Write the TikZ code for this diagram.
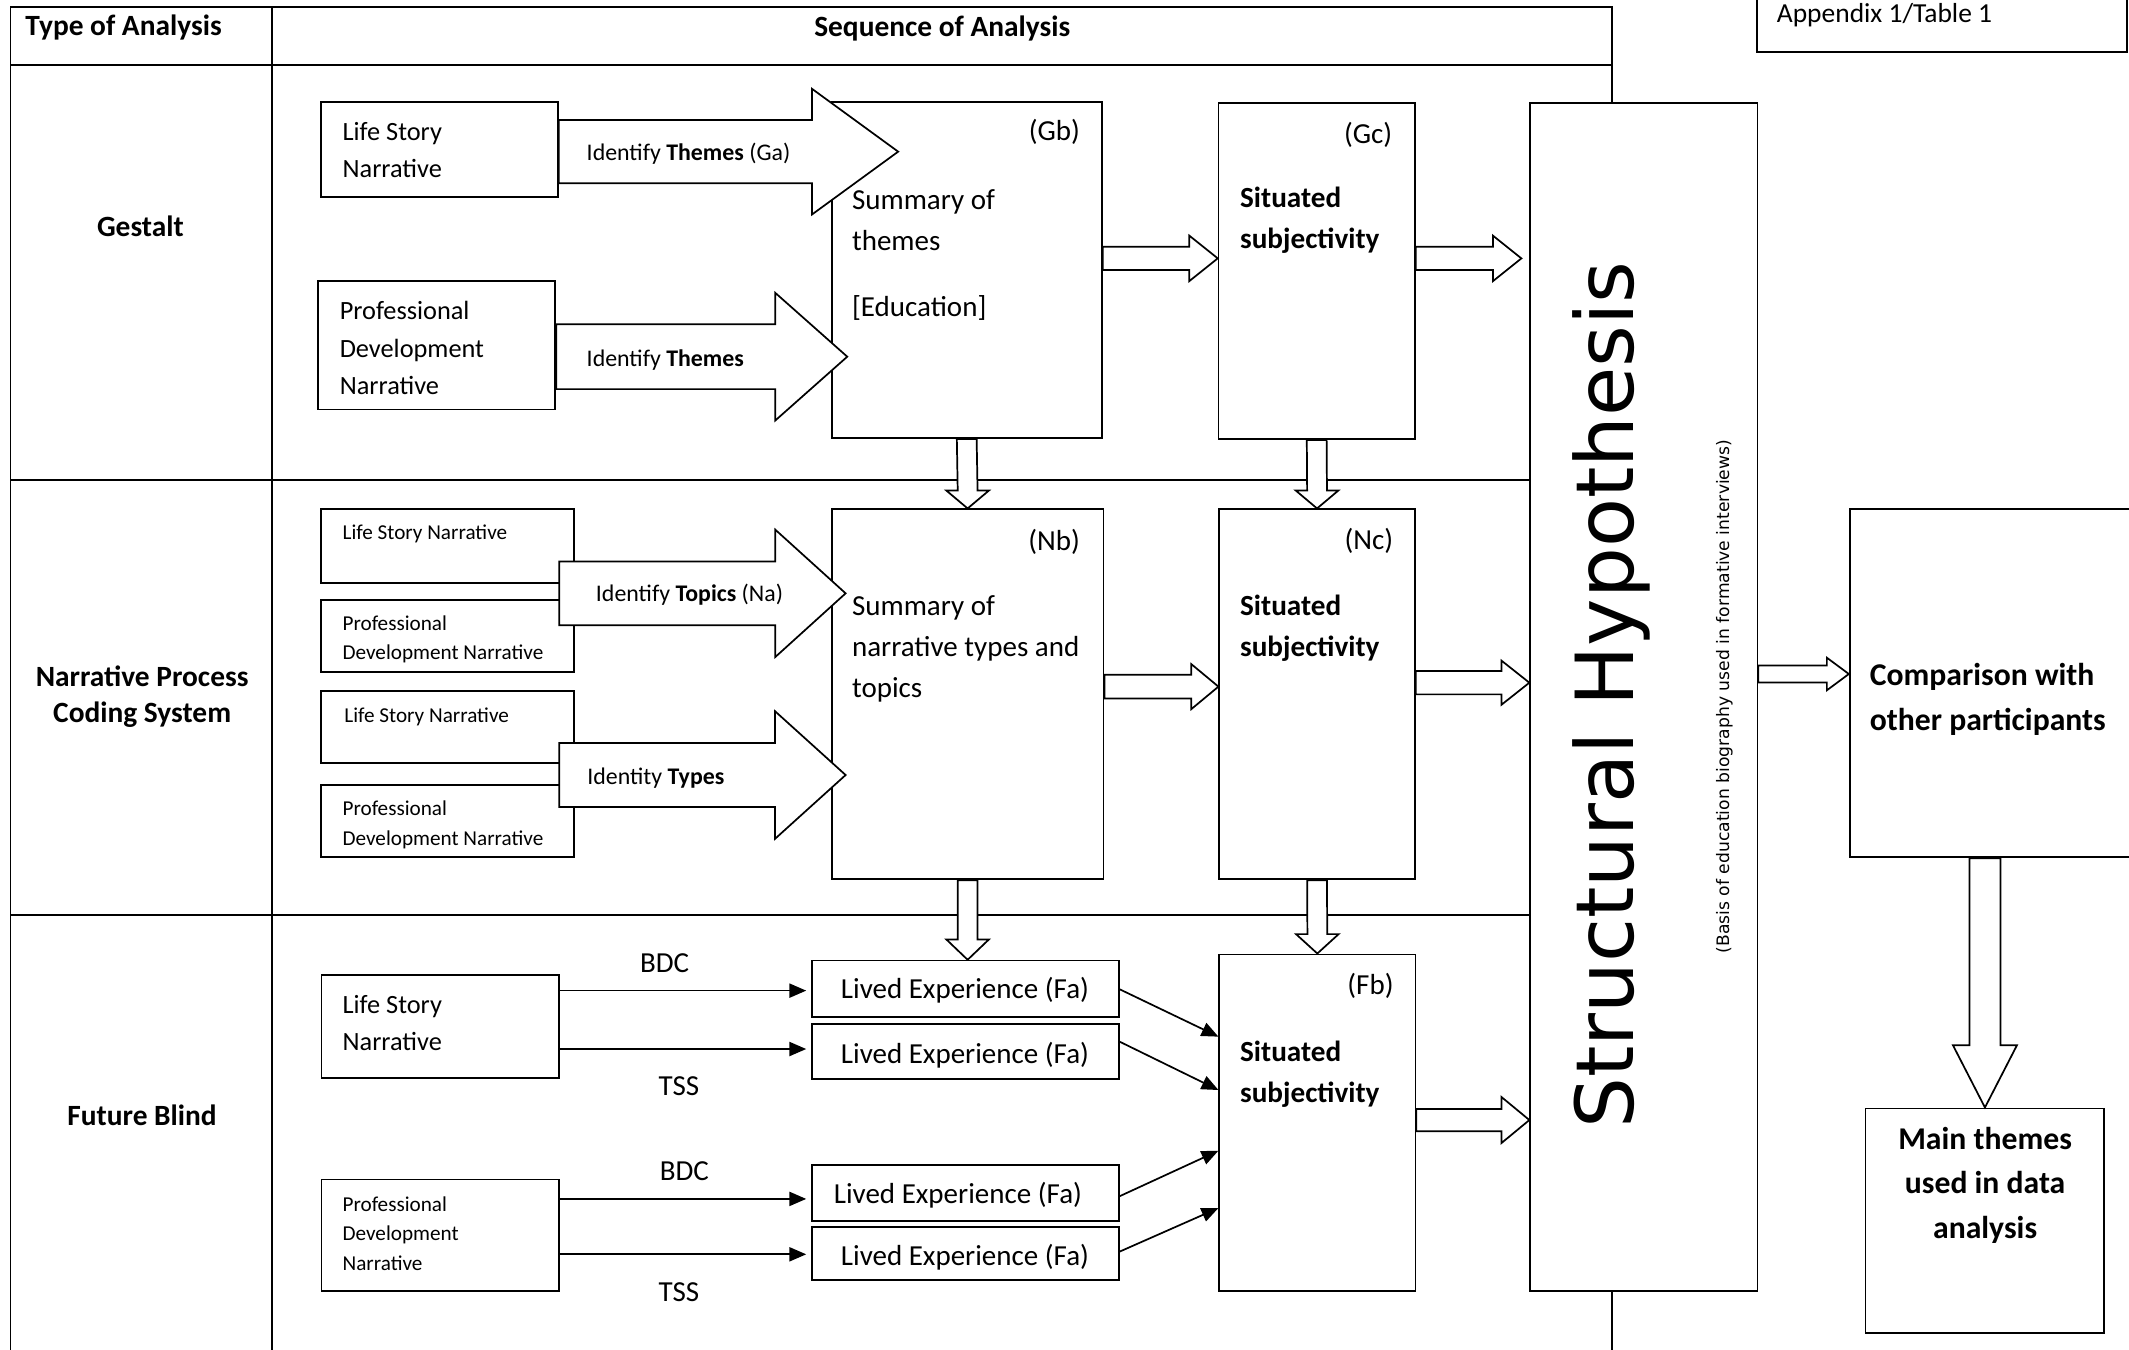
\documentclass[tikz,border=0pt]{standalone}
\usepackage{fontspec}
\setmainfont{Carlito}
\newfontfamily\hypfont{DejaVu Sans}
\usetikzlibrary{arrows.meta,calc,fit}

\newcommand{\harr}[5]{%
\draw[blk] ($(#1)+(0,#3)$) -- ($(#2)+(-#5,#3)$) -- ($(#2)+(-#5,#4)$) -- (#2)
  -- ($(#2)+(-#5,-#4)$) -- ($(#2)+(-#5,-#3)$) -- ($(#1)+(0,-#3)$) -- cycle;}
\newcommand{\varr}[5]{%
\draw[blk] ($(#1)+(#3,0)$) -- ($(#2)+(#3,-#5)$) -- ($(#2)+(#4,-#5)$) -- (#2)
  -- ($(#2)+(-#4,-#5)$) -- ($(#2)+(-#3,-#5)$) -- ($(#1)+(-#3,0)$) -- cycle;}

\begin{document}
\begin{tikzpicture}[x=0.25mm,y=-0.25mm,line width=0.9pt,
  box/.style={draw,fill=white,inner sep=0pt},
  blk/.style={draw,fill=white,line join=miter},
  ln/.style={-{Triangle[length=3.1mm,width=2.6mm]}},
  tx/.style={inner sep=0pt,anchor=west,align=left},
  hd/.style={inner sep=0pt,align=center,font=\fontsize{15.4}{19.2}\selectfont\bfseries},
  txbig/.style={tx,font=\fontsize{15.2}{21.3}\selectfont},
  txmid/.style={tx,font=\fontsize{13.8}{19.6}\selectfont},
  txsml/.style={tx,font=\fontsize{11.1}{15.6}\selectfont},
  idt/.style={tx,font=\fontsize{12.5}{15}\selectfont},
  sit/.style={tx,font=\fontsize{15.3}{21.7}\selectfont\bfseries},
  cmp/.style={inner sep=0pt,font=\fontsize{16.6}{23.5}\selectfont\bfseries}]
\useasboundingbox (0,0) rectangle (1568,994);

\draw (7.7,5) rectangle (1187,1010);
\draw (7.7,47.9) -- (1187,47.9);
\draw (200.5,5) -- (200.5,1010);
\draw (7.7,353.5) -- (1187,353.5);
\draw (7.7,674) -- (1187,674);
\node[box,fit={(1294,-10) (1566.6,38.5)}] (app) {};
\node[tx,font=\fontsize{14.4}{17}\selectfont] (appT) at (1308,11) {Appendix 1/Table 1};

\node[hd] (toa) at (91,20) {Type of Analysis};
\node[hd] (soa) at (694,21) {Sequence of Analysis};
\node[hd] (ges) at (103.4,167) {Gestalt};
\node[hd] (npcs) at (104.7,513) {Narrative Process\\Coding System};
\node[hd] (fbl) at (104.6,821.2) {Future Blind};

\node[box,fit={(236.2,74.9) (410.9,145.3)}] (lsG) {};
\node[txmid] (lsGt) at (251.7,110.5) {Life Story\\Narrative};
\node[box,fit={(234,207) (409,301.5)}] (pdG) {};
\node[txmid] (pdGt) at (249.6,256.3) {Professional\\Development\\Narrative};
\node[box,fit={(612.5,75) (811.5,322.7)}] (Gb) {};
\node[txbig,anchor=east] (GbT) at (796,97) {(Gb)};
\node[txbig] (GbS) at (626.9,162) {Summary of\\themes};
\node[txbig] (GbE) at (626.9,227) {[Education]};
\node[box,fit={(897.5,75.6) (1042,323.5)}] (Gc) {};
\node[txbig,anchor=east] (GcT) at (1026,99.4) {(Gc)};
\node[sit] (GcS) at (912.7,162) {Situated\\subjectivity};

\node[box,fit={(236.2,375.1) (422.8,429.6)}] (ls1) {};
\node[txsml] (ls1t) at (251.7,393.5) {Life Story Narrative};
\node[box,fit={(236.2,441.9) (422.8,494.7)}] (pd1) {};
\node[txsml] (pd1t) at (251.7,470.9) {Professional\\Development Narrative};
\node[box,fit={(236.2,509) (422.8,561.7)}] (ls2) {};
\node[txsml] (ls2t) at (253,527.8) {Life Story Narrative};
\node[box,fit={(236.2,578.1) (422.8,631.4)}] (pd2) {};
\node[txsml] (pd2t) at (251.7,607.4) {Professional\\Development Narrative};
\node[box,fit={(612.5,375.1) (812.8,647.6)}] (Nb) {};
\node[txbig,anchor=east] (NbT) at (796,398.9) {(Nb)};
\node[txbig,font=\fontsize{15.2}{21.6}\selectfont] (NbS) at (626.9,478.1) {Summary of\\narrative types and\\topics};
\node[box,fit={(898,375.1) (1042,647.6)}] (Nc) {};
\node[txbig,anchor=east] (NcT) at (1026.7,398.4) {(Nc)};
\node[sit] (NcS) at (912.7,462.8) {Situated\\subjectivity};

\node[box,fit={(236.7,718) (411.9,794.2)}] (lsF) {};
\node[txmid] (lsFt) at (251.7,753.3) {Life Story\\Narrative};
\node[box,fit={(236.7,868.6) (411.9,950.6)}] (pdF) {};
\node[txsml] (pdFt) at (251.7,908.6) {Professional\\Development\\Narrative};
\node[box,fit={(598,707.5) (824,748.8)}] (Fa1) {};
\node[txbig] (Fa1t) at (618.7,729.6) {Lived Experience (Fa)};
\node[box,fit={(598,754.4) (824,794.7)}] (Fa2) {};
\node[txbig] (Fa2t) at (618.7,777) {Lived Experience (Fa)};
\node[box,fit={(598,858) (824,899.2)}] (Fa3) {};
\node[txbig] (Fa3t) at (613.5,880) {Lived Experience (Fa)};
\node[box,fit={(598,903.9) (824,942.7)}] (Fa4) {};
\node[txbig] (Fa4t) at (618.7,926.2) {Lived Experience (Fa)};
\node[box,fit={(898,702.9) (1042.4,950.8)}] (Fb) {};
\node[txbig,anchor=east] (FbT) at (1027,726.2) {(Fb)};
\node[sit] (FbS) at (912.7,791.1) {Situated\\subjectivity};

\node[box,fit={(1127,75.6) (1294.4,950.8)}] (SH) {};
\node[rotate=90,inner sep=0pt,font=\hypfont\fontsize{42}{50}\selectfont] (SHt) at (1187,512) {Structural Hypothesis};
\node[rotate=90,inner sep=0pt,font=\hypfont\fontsize{9}{11}\selectfont] (SHb) at (1270,513) {(Basis of education biography used in formative interviews)};
\node[box,fit={(1362.3,375.1) (1575,631.4)}] (Comp) {};
\node[cmp,anchor=west,align=left] (CompT) at (1376.5,515) {Comparison with\\other participants};
\node[box,fit={(1374,816.3) (1549.8,982)}] (Main) {};
\node[cmp,align=center] (MainT) at (1462,873) {Main themes\\used in data\\analysis};

\coordinate (t1) at (661.5,111.7);
\coordinate (t2) at (624,262.7);
\coordinate (na0) at (411.9,437);
\coordinate (t3) at (622.8,437);
\coordinate (ty0) at (411.9,570.8);
\coordinate (t4) at (622.8,570.8);
\coordinate (gcsh) at (1120.5,190.3);
\harr{lsG.east |- t1}{t1}{23.3}{46.3}{63.5}
\harr{pdG.east |- t2}{t2}{23.9}{47}{53}
\harr{na0}{t3}{23.5}{46.9}{51.8}
\harr{ty0}{t4}{23.6}{47}{52}
\node[idt] (idGa) at (431.5,112.9) {Identify \textbf{Themes} (Ga)};
\node[idt] (idG) at (431.5,265) {Identify \textbf{Themes}};
\node[idt] (idNa) at (438.3,438.2) {Identify \textbf{Topics} (Na)};
\node[idt] (idTy) at (432,573.2) {Identity \textbf{Types}};

\harr{Gb.east |- gcsh}{Gc.west |- gcsh}{8.5}{16.8}{21}
\harr{Gc.east |- gcsh}{gcsh}{8.5}{16.8}{21}
\harr{Nb.east |- 0,505.7}{Nc.west |- 0,505.7}{8.7}{16.6}{20}
\harr{Nc.east |- 0,502.8}{SH.west |- 0,502.8}{8.6}{16.3}{20.6}
\harr{Fb.east |- 0,824.9}{SH.west |- 0,824.9}{8.2}{17}{20.6}
\harr{SH.east |- 0,496.4}{Comp.west |- 0,496.4}{6.2}{12}{16.2}
\varr{Gb.south}{Nb.north}{7.3}{15.7}{13.2}
\varr{Gc.south}{Nc.north}{7.3}{15.7}{13.2}
\varr{Nb.south}{Nb.south |- Fa1.north}{7.3}{15.7}{15}
\varr{Nc.south}{Fb.north}{7.3}{15.7}{14.3}
\varr{Main.north |- Comp.south}{Main.north}{11.4}{23.6}{45.9}

\draw[ln,shorten >=0.9mm] (lsF.east |- 0,729.6) -- (Fa1.west |- 0,729.6);
\draw[ln,shorten >=0.9mm] (lsF.east |- 0,772.6) -- (Fa2.west |- 0,772.6);
\draw[ln,shorten >=0.9mm] (pdF.east |- 0,883) -- (Fa3.west |- 0,883);
\draw[ln,shorten >=0.9mm] (pdF.east |- 0,923.8) -- (Fa4.west |- 0,923.8);
\node[txbig,anchor=center] (bdc1) at (489.5,709.5) {BDC};
\node[txbig,anchor=center] (tss1) at (500,800.3) {TSS};
\node[txbig,anchor=center] (bdc2) at (504,862.9) {BDC};
\node[txbig,anchor=center] (tss2) at (500,952) {TSS};
\draw[ln] (Fa1.east |- 0,728.6) -- (Fb.west |- 0,763.5);
\draw[ln] (Fa2.east |- 0,767.2) -- (Fb.west |- 0,802.8);
\draw[ln] (Fa3.east |- 0,881) -- (Fb.west |- 0,847.5);
\draw[ln] (Fa4.east |- 0,921.8) -- (Fb.west |- 0,889.7);
\end{tikzpicture}
\end{document}
